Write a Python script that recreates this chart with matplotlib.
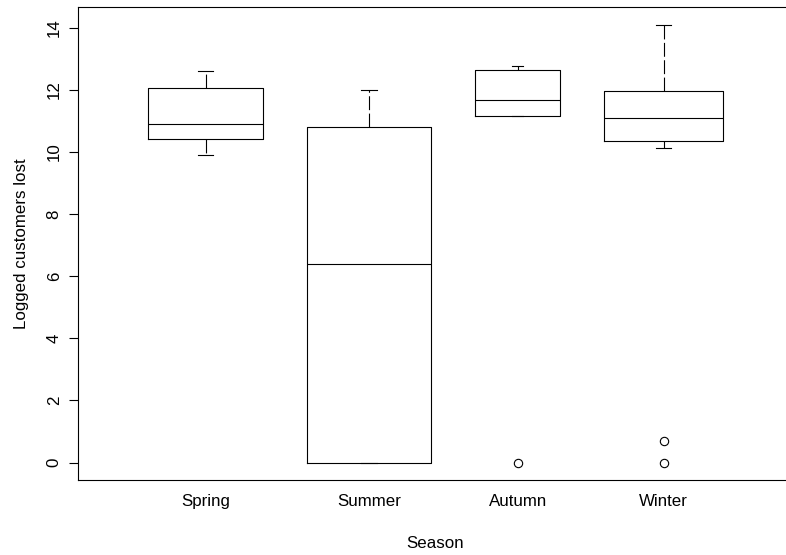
import matplotlib
matplotlib.use("Agg")
import matplotlib.pyplot as plt

plt.rcParams['font.family'] = ['Liberation Sans', 'DejaVu Sans']
plt.rcParams['lines.scale_dashes'] = False
plt.rcParams['savefig.bbox'] = 'standard'

# ---- data ----
seasons = ["Spring", "Summer", "Autumn", "Winter"]
q1 = [10.42, 0.0, 11.17, 10.34]
medians = [10.89, 6.40, 11.69, 11.10]
q3 = [12.07, 10.81, 12.63, 11.95]
whisker_low = [9.90, 0.0, 11.16, 10.14]
whisker_high = [12.62, 11.99, 12.78, 14.10]
outliers = [[], [], [0.0], [0.0, 0.693]]
y_ticks = [0, 2, 4, 6, 8, 10, 12, 14]

# ---- layout (not data) ----
positions = [1.0, 2.07, 3.044, 4.0]
widths = [0.751, 0.816, 0.557, 0.781]

stats = []
for i, name in enumerate(seasons):
    stats.append(dict(label=name, med=medians[i], q1=q1[i], q3=q3[i],
                      whislo=whisker_low[i], whishi=whisker_high[i],
                      fliers=outliers[i]))

W, H = 786, 555
fig = plt.figure(figsize=(W / 100, H / 100), dpi=100)
# the plot box runs past the right edge of the picture in the reference
left_px, right_px, top_px, bot_px = 77.7, 793.3, 7.3, 480.0
ax = fig.add_axes([left_px / W, (H - bot_px) / H,
                   (right_px - left_px) / W, (bot_px - top_px) / H])

lw = 0.8
ax.bxp(stats, positions=positions, widths=widths,
       capwidths=[0.13 * w for w in widths],
       showfliers=True, patch_artist=False,
       boxprops=dict(color='black', linewidth=lw),
       medianprops=dict(color='black', linewidth=lw),
       whiskerprops=dict(color='black', linewidth=lw, linestyle=(0, (10, 2.5))),
       capprops=dict(color='black', linewidth=lw),
       flierprops=dict(marker='o', markerfacecolor='none', markeredgecolor='black',
                       markersize=6, markeredgewidth=lw, linestyle='none'))

# x scale: 152.67 px per unit, position 1 at px 205.7
px_per_unit = 152.67
ax.set_xlim(1 - (205.7 - left_px) / px_per_unit, 1 + (right_px - 205.7) / px_per_unit)
ax.set_ylim(-0.56, 14.66)
ax.set_yticks(y_ticks)
ax.set_yticklabels([str(t) for t in y_ticks], rotation=90, va='center')
ax.set_xticks(positions)
ax.set_xticklabels(seasons)

ax.tick_params(axis='y', length=6.5, width=lw, pad=5, labelsize=12.2)
ax.tick_params(axis='x', length=0, pad=10, labelsize=12.2)

for s in ax.spines.values():
    s.set_linewidth(lw)
ax.spines['right'].set_visible(False)

ax.set_ylabel("Logged customers lost", fontsize=12.2, va='center', ha='center')
ax.yaxis.set_label_coords((22 - left_px) / (right_px - left_px), 0.5)
ax.set_xlabel("Season", fontsize=12.2, va='center', ha='center')
ax.xaxis.set_label_coords((435.5 - left_px) / (right_px - left_px),
                          (bot_px - 543) / (bot_px - top_px))

fig.savefig("out.png", dpi=100)
